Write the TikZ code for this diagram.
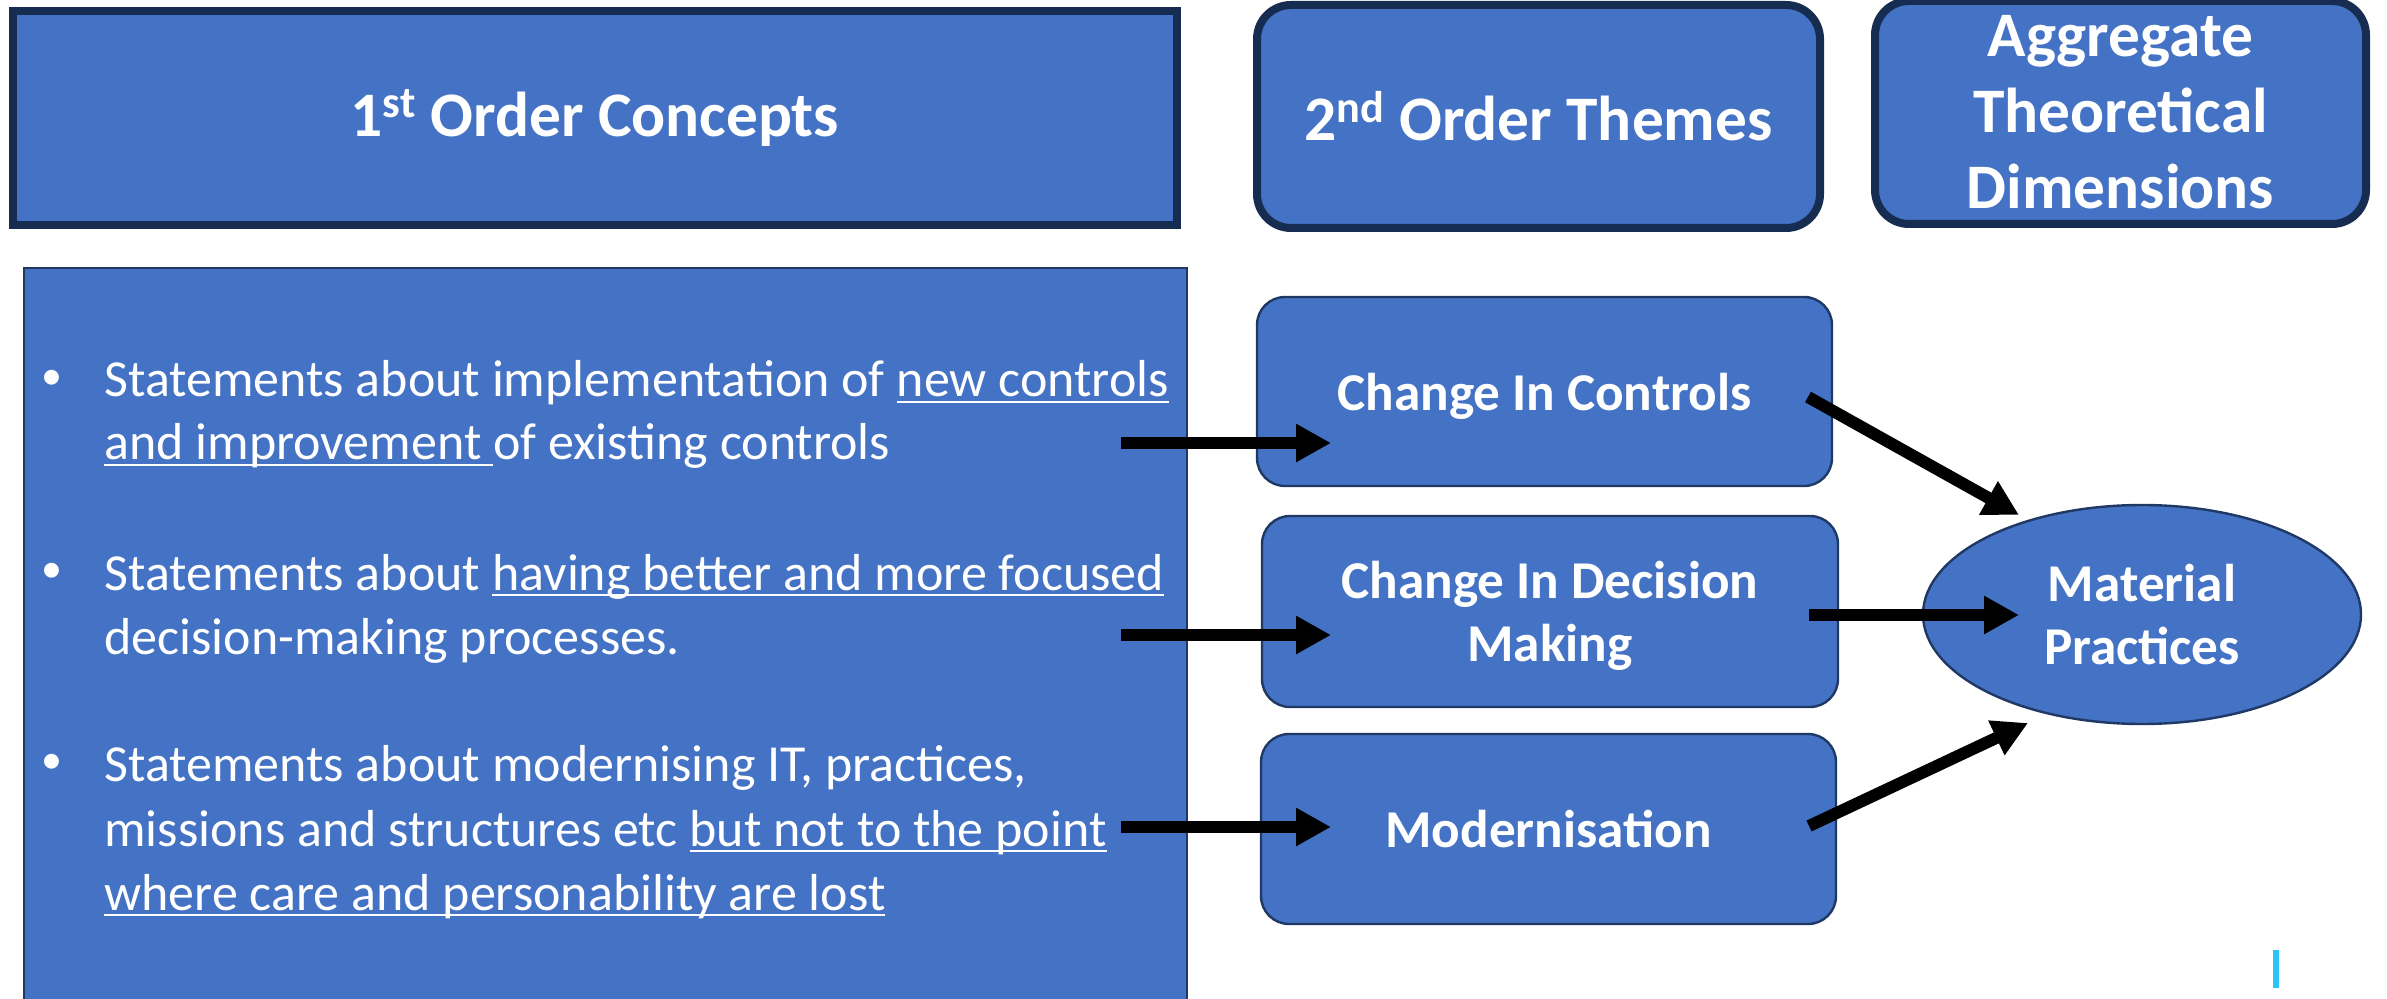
\documentclass[tikz,border=0pt]{standalone}
\usepackage{fontspec}
\setmainfont{Carlito}
\usetikzlibrary{arrows.meta,shapes.geometric}

\definecolor{fillblue}{HTML}{4472C4}
\definecolor{navy}{HTML}{172C51}
\definecolor{edgeblue}{HTML}{1F3864}
\definecolor{cursorcyan}{HTML}{29C5F6}

% underline at a fixed depth below the baseline, through descenders
\newcommand\ulpart[1]{\setbox0\hbox{#1}\rlap{\rule[-3pt]{\wd0}{0.9pt}}\box0}

\begin{document}
\begin{tikzpicture}[x=0.5pt,y=-0.5pt,
  hdr/.style={draw=navy, line width=4pt, fill=fillblue, text=white,
    font=\bfseries\fontsize{31.7}{38}\selectfont, align=center, inner sep=0pt},
  theme/.style={draw=edgeblue, line width=1.2pt, fill=fillblue, rounded corners=14pt,
    text=white, font=\bfseries\fontsize{26.6}{31.6}\selectfont, align=center,
    inner sep=0pt, text depth=0pt},
  dimension/.style={ellipse, draw=edgeblue, line width=1.2pt, fill=fillblue,
    text=white, font=\bfseries\fontsize{26.6}{31.6}\selectfont, align=center,
    inner sep=0pt, text depth=0pt},
  txtline/.style={text=white, font=\fontsize{26}{32}\selectfont, anchor=base west, inner sep=0pt},
  bulletmark/.style={text=white, font=\fontsize{21}{24}\selectfont, anchor=center, inner sep=0pt},
  link/.style={line width=6pt, -{Triangle[length=17.5pt,width=18pt]}}
]
\path[use as bounding box] (0,0) rectangle (2387,999);

% column headers
\node[hdr, minimum width=582pt, minimum height=107pt] (h1) at (595,118)
  {1\textsuperscript{st} Order Concepts};
\node[hdr, rounded corners=17pt, minimum width=281.5pt, minimum height=111.5pt] (h2) at (1538.5,116.5)
  {2\textsuperscript{nd} Order Themes};
\node[hdr, rounded corners=17pt, minimum width=245.5pt, minimum height=111.5pt] (h3) at (2120.5,112.5)
  {Aggregate\\Theoretical\\Dimensions};

% first order concepts panel
\node[draw=edgeblue, line width=1pt, fill=fillblue, minimum width=581.5pt, minimum height=371pt,
  inner sep=0pt] (concepts) at (605.5,639) {};

\node[bulletmark] (dot1) at (52,380) {•};
\node[txtline] (b1l1) at (104,397) {Statements about implementation of \ulpart{new controls}};
\node[txtline] (b1l2) at (104,460) {\ulpart{and improvement }of existing controls};

\node[bulletmark] (dot2) at (52,573) {•};
\node[txtline] (b2l1) at (104,590) {Statements about \ulpart{having better and more focused}};
\node[txtline] (b2l2) at (104,654) {decision-making processes.};

\node[bulletmark] (dot3) at (52,764) {•};
\node[txtline] (b3l1) at (104,781) {Statements about modernising IT, practices,};
\node[txtline] (b3l2) at (104,846) {missions and structures etc \ulpart{but not to the point}};
\node[txtline] (b3l3) at (104,910) {\ulpart{where care and personability are lost}};

% second order themes
\node[theme, minimum width=287.5pt, minimum height=94.5pt] (cic) at (1544.5,391.5) {Change In Controls};
\node[theme, minimum width=288pt, minimum height=95.5pt] (cidm) at (1550,611.5) {Change In Decision\\Making};
\node[theme, minimum width=287.5pt, minimum height=95pt] (mod) at (1548.5,829) {Modernisation};

% aggregate dimension
\node[dimension, minimum width=219pt, minimum height=109.5pt] (mp) at (2142,614.5) {Material\\Practices};

% arrow end points
\coordinate (s1) at (1121,443);  \coordinate (t1) at (1331,443);
\coordinate (s2) at (1121,635);  \coordinate (t2) at (1331,635);
\coordinate (s3) at (1121,827);  \coordinate (t3) at (1331,827);
\coordinate (u1) at (1808,397);  \coordinate (v1) at (2019,515);
\coordinate (u2) at (1809,615);  \coordinate (v2) at (2019,615);
\coordinate (u3) at (1809,826);  \coordinate (v3) at (2028,723);

\draw[link] (s1) -- (t1);
\draw[link] (s2) -- (t2);
\draw[link] (s3) -- (t3);
\draw[link] (u1) -- (v1);
\draw[link] (u2) -- (v2);
\draw[link] (u3) -- (v3);

% text cursor mark
\coordinate (c1) at (2276,950);
\coordinate (c2) at (2276,988);
\draw[cursorcyan, line width=3pt] (c1) -- (c2);
\end{tikzpicture}
\end{document}
